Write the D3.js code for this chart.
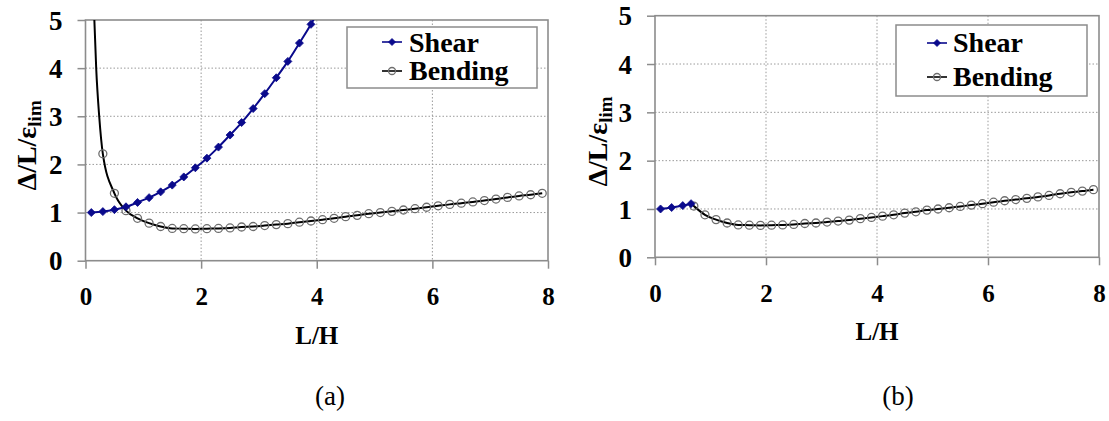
<!DOCTYPE html>
<html>
<head>
<meta charset="utf-8">
<script src="https://cdn.jsdelivr.net/npm/d3@7"></script>
<style>
  body { margin: 0; background: #fff; }
  svg { display: block; }
  svg text { font-family: "Liberation Serif", "Times New Roman", Times, serif !important; }
</style>
</head>
<body>
<svg id="chart" width="1109" height="421"></svg>
<script>
// ---- data -------------------------------------------------------------
const xTicks = [0, 2, 4, 6, 8];
const yTicks = [0, 1, 2, 3, 4, 5];
const seriesNames = ["Shear", "Bending"];
const xTitle = "L/H";

// (a) both criteria over the full range of L/H
const shearA_x = [0.1, 0.3, 0.5, 0.7, 0.9, 1.1, 1.3, 1.5, 1.7, 1.9, 2.1, 2.3, 2.5, 2.7, 2.9, 3.1, 3.3, 3.5, 3.7, 3.9];
const shearA_y = [1.00, 1.02, 1.06, 1.12, 1.21, 1.31, 1.43, 1.57, 1.74, 1.93, 2.13, 2.36, 2.61, 2.87, 3.16, 3.47, 3.80, 4.14, 4.52, 4.91];
const shearA_tail = [[4.0, 5.13]];

const bendingA_head = [[0.15, 5.1], [0.185, 4.0], [0.237, 3.0]];
const bendingA_x = [0.3, 0.5, 0.7, 0.9, 1.1, 1.3, 1.5, 1.7, 1.9, 2.1, 2.3, 2.5, 2.7, 2.9, 3.1, 3.3, 3.5, 3.7, 3.9, 4.1,
                    4.3, 4.5, 4.7, 4.9, 5.1, 5.3, 5.5, 5.7, 5.9, 6.1, 6.3, 6.5, 6.7, 6.9, 7.1, 7.3, 7.5, 7.7, 7.9];
const bendingA_y = [2.22, 1.40, 1.04, 0.88, 0.78, 0.71, 0.67, 0.665, 0.66, 0.665, 0.67, 0.68, 0.70, 0.71, 0.73, 0.75, 0.77, 0.80, 0.825, 0.852,
                    0.88, 0.915, 0.942, 0.977, 1.00, 1.025, 1.053, 1.08, 1.11, 1.14, 1.17, 1.195, 1.22, 1.25, 1.28, 1.315, 1.345, 1.37, 1.40];

// (b) governing criterion: shear up to the crossing, bending after it
const shearB_x = [0.1, 0.3, 0.5, 0.65];
const shearB_y = [1.00, 1.03, 1.07, 1.11];

const bendingB_head = [[0.65, 1.11]];
const bendingB_x = [0.7, 0.9, 1.1, 1.3, 1.5, 1.7, 1.9, 2.1, 2.3, 2.5, 2.7, 2.9, 3.1, 3.3, 3.5, 3.7, 3.9, 4.1,
                    4.3, 4.5, 4.7, 4.9, 5.1, 5.3, 5.5, 5.7, 5.9, 6.1, 6.3, 6.5, 6.7, 6.9, 7.1, 7.3, 7.5, 7.7, 7.9];
const bendingB_y = [1.06, 0.88, 0.78, 0.71, 0.67, 0.665, 0.66, 0.665, 0.67, 0.68, 0.70, 0.71, 0.73, 0.75, 0.77, 0.80, 0.825, 0.852,
                    0.88, 0.915, 0.942, 0.977, 1.00, 1.025, 1.053, 1.08, 1.11, 1.14, 1.17, 1.195, 1.22, 1.25, 1.28, 1.315, 1.345, 1.37, 1.40];

// ---- layout -----------------------------------------------------------
const SERIF = "'Liberation Serif', 'Times New Roman', Times, serif";
const SHEAR_COLOR = "#0a0a8c";
const FRAME_COLOR = "#8c8c8c";
const GRID_COLOR = "#9a9a9a";
const CIRCLE_COLOR = "#6e6e6e";

const panels = [
  {
    key: "a", label: "(a)", labelX: 330,
    left: 85.5, right: 548, bottom: 260.7, top: 20,
    titleX: 36, yPad: 15,
    shear: { xs: shearA_x, ys: shearA_y, head: [], tail: shearA_tail },
    bending: { xs: bendingA_x, ys: bendingA_y, head: bendingA_head, tail: [] },
    legend: { x: 347, y: 27, w: 190, h: 61, lineX0: 382, lineX1: 402, textX: 409, rows: [42, 71], base: [52, 80] }
  },
  {
    key: "b", label: "(b)", labelX: 898,
    left: 655, right: 1099, bottom: 257.3, top: 15.7,
    titleX: 607, yPad: 15,
    shear: { xs: shearB_x, ys: shearB_y, head: [], tail: [] },
    bending: { xs: bendingB_x, ys: bendingB_y, head: bendingB_head, tail: [] },
    legend: { x: 896, y: 25, w: 191, h: 71, lineX0: 927, lineX1: 947, textX: 953, rows: [43, 77], base: [52, 86] }
  }
];

const svg = d3.select("#chart").style("font-family", SERIF);
svg.append("rect").attr("width", 1109).attr("height", 421).attr("fill", "#fff");

function diamond(g, cx, cy, r) {
  g.append("path")
    .attr("d", `M${cx},${cy - r}L${cx + r},${cy}L${cx},${cy + r}L${cx - r},${cy}Z`)
    .attr("fill", SHEAR_COLOR).attr("stroke", SHEAR_COLOR).attr("stroke-width", 0.8);
}
function ring(g, cx, cy, r) {
  g.append("circle").attr("cx", cx).attr("cy", cy).attr("r", r)
    .attr("fill", "none").attr("stroke", CIRCLE_COLOR).attr("stroke-width", 1.3);
}

panels.forEach(p => {
  const x = d3.scaleLinear().domain([0, 8]).range([p.left, p.right]);
  const y = d3.scaleLinear().domain([0, 5]).range([p.bottom, p.top]);
  const g = svg.append("g").attr("class", "panel-" + p.key);

  // grid
  g.append("g").selectAll("line").data(yTicks.filter(t => t > 0 && t < 5)).join("line")
    .attr("x1", p.left).attr("x2", p.right).attr("y1", d => y(d)).attr("y2", d => y(d))
    .attr("stroke", GRID_COLOR).attr("stroke-width", 1).attr("stroke-dasharray", "1.5,2");
  g.append("g").selectAll("line").data(xTicks.filter(t => t > 0 && t < 8)).join("line")
    .attr("y1", p.top).attr("y2", p.bottom).attr("x1", d => x(d)).attr("x2", d => x(d))
    .attr("stroke", GRID_COLOR).attr("stroke-width", 1).attr("stroke-dasharray", "1.5,2");

  // axes
  const yAxis = d3.axisLeft(y).tickValues(yTicks).tickSize(8).tickPadding(p.yPad).tickFormat(d3.format("d"));
  const xAxis = d3.axisBottom(x).tickValues(xTicks).tickSize(8).tickPadding(19).tickFormat(d3.format("d"));
  const ya = g.append("g").attr("transform", `translate(${p.left},0)`).call(yAxis);
  const xa = g.append("g").attr("transform", `translate(0,${p.bottom})`).call(xAxis);
  [ya, xa].forEach(a => {
    a.attr("font-family", null).attr("font-size", null);
    a.select(".domain").remove();
    a.selectAll(".tick line").attr("stroke", FRAME_COLOR).attr("stroke-width", 1.5);
    a.selectAll(".tick text").attr("fill", "#000").style("font-weight", "bold").style("font-family", SERIF);
  });
  ya.selectAll(".tick text").style("font-size", "27px").attr("dy", "0.34em");
  xa.selectAll(".tick text").style("font-size", "25px");

  // frame
  g.append("rect").attr("x", p.left).attr("y", p.top)
    .attr("width", p.right - p.left).attr("height", p.bottom - p.top)
    .attr("fill", "none").attr("stroke", FRAME_COLOR).attr("stroke-width", 1.6);

  // axis titles
  g.append("text").attr("x", (p.left + p.right) / 2).attr("y", p.bottom + 83)
    .attr("text-anchor", "middle").style("font-size", "25px").style("font-weight", "bold")
    .style("font-family", SERIF).text(xTitle);
  const yt = g.append("text")
    .attr("transform", `translate(${p.titleX},${(p.top + p.bottom) / 2 + 5}) rotate(-90)`)
    .attr("text-anchor", "middle").style("font-size", "28px").style("font-weight", "bold")
    .style("font-family", SERIF);
  yt.append("tspan").text("Δ/L/ε");
  yt.append("tspan").style("font-size", "19px").attr("dy", 5).text("lim");

  // panel label
  svg.append("text").attr("x", p.labelX).attr("y", 405).attr("text-anchor", "middle")
    .style("font-size", "27px").style("font-family", SERIF).text(p.label);

  // series
  const clipId = "clip-" + p.key;
  svg.append("defs").append("clipPath").attr("id", clipId).append("rect")
    .attr("x", p.left).attr("y", p.top).attr("width", p.right - p.left).attr("height", p.bottom - p.top);
  const plot = g.append("g").attr("clip-path", `url(#${clipId})`);
  const line = d3.line().x(d => x(d[0])).y(d => y(d[1])).curve(d3.curveMonotoneX);

  const shearPts = p.shear.xs.map((v, i) => [v, p.shear.ys[i]]);
  const bendPts = p.bending.xs.map((v, i) => [v, p.bending.ys[i]]);

  plot.append("path").datum(p.bending.head.concat(bendPts, p.bending.tail)).attr("d", line)
    .attr("fill", "none").attr("stroke", "#000").attr("stroke-width", 2);
  bendPts.forEach(d => ring(plot, x(d[0]), y(d[1]), 4));

  plot.append("path").datum(p.shear.head.concat(shearPts, p.shear.tail)).attr("d", line)
    .attr("fill", "none").attr("stroke", SHEAR_COLOR).attr("stroke-width", 2);
  shearPts.forEach(d => diamond(plot, x(d[0]), y(d[1]), 4));

  // legend
  const L = p.legend;
  const lg = g.append("g");
  lg.append("rect").attr("x", L.x).attr("y", L.y).attr("width", L.w).attr("height", L.h)
    .attr("fill", "#fff").attr("stroke", FRAME_COLOR).attr("stroke-width", 1.5);
  seriesNames.forEach((name, i) => {
    const cy = L.rows[i];
    const col = i === 0 ? SHEAR_COLOR : "#000";
    lg.append("line").attr("x1", L.lineX0).attr("x2", L.lineX1).attr("y1", cy).attr("y2", cy)
      .attr("stroke", col).attr("stroke-width", 1.6);
    if (i === 0) diamond(lg, (L.lineX0 + L.lineX1) / 2, cy, 3.5);
    else ring(lg, (L.lineX0 + L.lineX1) / 2, cy, 3.5);
    lg.append("text").attr("x", L.textX).attr("y", L.base[i]).style("font-size", "28px")
      .style("font-weight", "bold").style("font-family", SERIF).text(name);
  });
});
</script>
</body>
</html>
